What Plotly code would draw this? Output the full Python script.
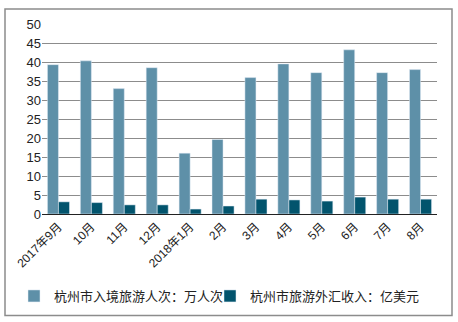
import plotly.graph_objects as go

months = ["2017年9月", "10月", "11月", "12月", "2018年1月", "2月", "3月", "4月", "5月", "6月", "7月", "8月"]
visitors = [39.3, 40.3, 33.0, 38.5, 16.0, 19.6, 35.9, 39.5, 37.2, 43.2, 37.2, 38.0]
revenue = [3.2, 3.0, 2.4, 2.4, 1.3, 2.1, 3.9, 3.7, 3.4, 4.45, 3.9, 3.9]

name_visitors = "杭州市入境旅游人次：万人次"
name_revenue = "杭州市旅游外汇收入：亿美元"

font_family = "Liberation Sans, Arial, Noto Sans CJK SC, sans-serif"
text_color = "#222222"

fig = go.Figure()
fig.add_trace(go.Bar(x=months, y=visitors, name=name_visitors, marker_color="#5E90A8",
                     legend="legend"))
fig.add_trace(go.Bar(x=months, y=revenue, name=name_revenue, marker_color="#02546D",
                     legend="legend2"))

W, H = 458, 322
ml, mr, mt, mb = 42, 21, 24, 107
pw, ph = W - ml - mr, H - mt - mb

def px_x(p):
    return (p - ml) / pw

def px_y(p):
    return (H - mb - p) / ph

legend_style = dict(orientation="h", xanchor="left", y=px_y(296), yanchor="middle",
                    font=dict(size=13, color=text_color), itemwidth=30,
                    bgcolor="rgba(0,0,0,0)")

fig.update_layout(
    width=W, height=H,
    margin=dict(l=ml, r=mr, t=mt, b=mb),
    paper_bgcolor="white", plot_bgcolor="white",
    font=dict(family=font_family, size=12, color=text_color),
    barmode="group", bargap=0.33, bargroupgap=0,
    showlegend=True,
    legend=dict(x=px_x(14), **legend_style),
    legend2=dict(x=px_x(210), **legend_style),
    xaxis=dict(tickangle=-45, showline=True, linecolor="#222222", linewidth=1,
               ticks="", tickfont=dict(size=12, color=text_color), showgrid=False),
    yaxis=dict(range=[0, 50], dtick=5, showgrid=True, gridcolor="#8C8C8C", gridwidth=1,
               zeroline=False, showline=False, ticks="", tickfont=dict(size=13, color=text_color)),
    shapes=[dict(type="rect", xref="paper", yref="paper",
                 x0=px_x(5), x1=px_x(452), y0=px_y(317), y1=px_y(9),
                 line=dict(color="#8C8C8C", width=1.5), fillcolor="rgba(0,0,0,0)")],
)

fig.write_html("out.html")
